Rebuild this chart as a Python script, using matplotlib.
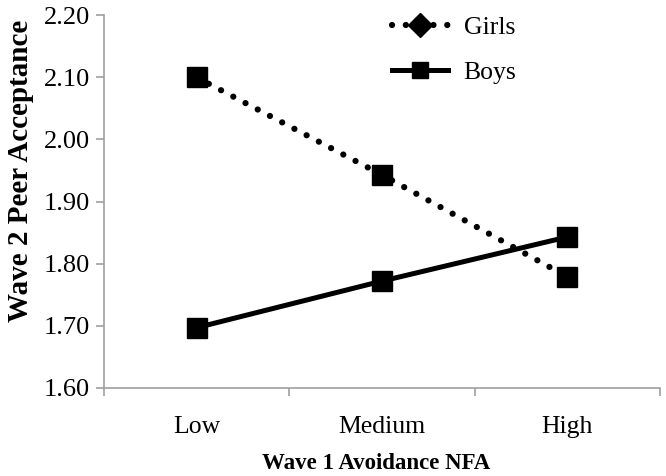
import matplotlib
matplotlib.use("Agg")
import matplotlib.pyplot as plt
from matplotlib.lines import Line2D

categories = ["Low", "Medium", "High"]
girls = [2.10, 1.943, 1.779]
boys = [1.697, 1.772, 1.843]
y_ticks = [1.60, 1.70, 1.80, 1.90, 2.00, 2.10, 2.20]

plt.rcParams['font.family'] = ['Liberation Serif', 'DejaVu Serif']

fig = plt.figure(figsize=(6.66, 4.76), dpi=100)
ax = fig.add_axes([0.156, 0.185, 0.835, 0.783])

girls_style = dict(color='black', linewidth=4.5, linestyle=(0, (0.01, 2.2)),
                   dash_capstyle='round')
boys_style = dict(color='black', linewidth=3.6, linestyle='-')

x = list(range(len(categories)))
ax.plot(x, girls, marker='s', markersize=14, zorder=3, **girls_style)
ax.plot(x, boys, marker='s', markersize=14, zorder=3, **boys_style)

ax.set_xlim(-0.5, 2.5)
ax.set_ylim(1.60, 2.20)
ax.set_yticks(y_ticks)
ax.set_yticklabels([f"{v:.2f}" for v in y_ticks], fontsize=19)

ax.set_xticks([-0.5, 0.5, 1.5, 2.5])
ax.set_xticklabels([])
ax.set_xticks(x, minor=True)
ax.set_xticklabels(categories, minor=True, fontsize=18.5)
ax.tick_params(axis='x', which='minor', length=0, pad=20)
ax.tick_params(axis='x', which='major', length=6, color='#A0A0A0', width=1.2)
ax.tick_params(axis='y', length=6, color='#A0A0A0', width=1.2, pad=4)

for s in ['top', 'right']:
    ax.spines[s].set_visible(False)
for s in ['left', 'bottom']:
    ax.spines[s].set_color('#A0A0A0')
    ax.spines[s].set_linewidth(1.2)

ax.set_xlabel("Wave 1 Avoidance NFA", fontsize=16.5, fontweight='bold', va='center')
ax.xaxis.set_label_coords(0.49, -0.203)
ax.set_ylabel("Wave 2 Peer Acceptance", fontsize=21, fontweight='bold', va='center')
ax.yaxis.set_label_coords(-0.150, 0.582)

handles = [
    Line2D([0], [0], marker='D', markersize=12, **girls_style),
    Line2D([0], [0], marker='s', markersize=12, **boys_style),
]
leg = ax.legend(handles, ["Girls", "Boys"], loc='upper left',
                bbox_to_anchor=(0.476, 1.06), frameon=False, fontsize=18.5,
                handlelength=2.2, handletextpad=0.6, labelspacing=0.85)

fig.savefig("out.png", dpi=100)
